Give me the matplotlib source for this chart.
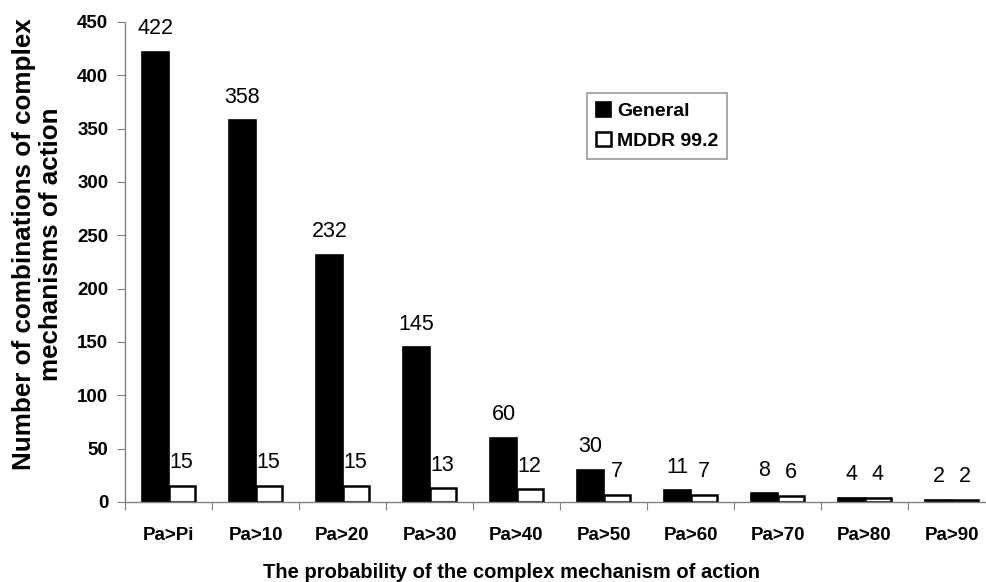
import matplotlib
matplotlib.use("Agg")
import matplotlib.pyplot as plt
import numpy as np

plt.rcParams['font.family'] = ['Liberation Sans', 'DejaVu Sans']

categories = ["Pa>Pi", "Pa>10", "Pa>20", "Pa>30", "Pa>40", "Pa>50", "Pa>60", "Pa>70", "Pa>80", "Pa>90"]
general = [422, 358, 232, 145, 60, 30, 11, 8, 4, 2]
mddr = [15, 15, 15, 13, 12, 7, 7, 6, 4, 2]
y_ticks = [0, 50, 100, 150, 200, 250, 300, 350, 400, 450]

fig = plt.figure(figsize=(9.86, 5.82), dpi=100)
ax = fig.add_axes([125/986, 80/582, 870/986, 480/582])

x = np.arange(len(categories))
w = 0.3
ax.bar(x, general, width=-w, align='edge', color='black', edgecolor='black', linewidth=1.2, label='General')
ax.bar(x, mddr, width=w, align='edge', color='white', edgecolor='black', linewidth=1.8, label='MDDR 99.2')

for xi, v in zip(x, general):
    ax.annotate(str(v), (xi - w/2, v), xytext=(0, 9), textcoords='offset points',
                ha='center', va='bottom', fontsize=15.5)
for xi, v in zip(x, mddr):
    ax.annotate(str(v), (xi + w/2, v), xytext=(0, 9), textcoords='offset points',
                ha='center', va='bottom', fontsize=15.5)

ax.set_xlim(-0.5, 9.5)
ax.set_ylim(0, 450)
ax.set_yticks(y_ticks)
ax.set_yticklabels([str(t) for t in y_ticks], fontsize=13.5, fontweight='bold')
ax.set_xticks(np.arange(-0.5, 10, 1))
ax.set_xticklabels([])
ax.set_xticks(x, minor=True)
ax.set_xticklabels(categories, minor=True, fontsize=13.5, fontweight='bold')
ax.tick_params(axis='x', which='minor', length=0, pad=18)
ax.tick_params(axis='x', which='major', length=6, color='#808080', direction='out')
ax.tick_params(axis='y', length=6, color='#808080', direction='out', pad=6)

for s in ['top', 'right']:
    ax.spines[s].set_visible(False)
for s in ['left', 'bottom']:
    ax.spines[s].set_color('#808080')
    ax.spines[s].set_linewidth(1.0)

ax.set_ylabel("Number of combinations of complex\nmechanisms of action", fontsize=18.7, fontweight='bold',
              labelpad=4, linespacing=1.15)
ax.yaxis.set_label_coords(-0.071, (502-244)/480)
ax.set_xlabel("The probability of the complex mechanism of action", fontsize=14.5, fontweight='bold', labelpad=14)
ax.xaxis.label.set_x((511-125)/870)

leg = ax.legend(loc='upper left', bbox_to_anchor=((587-125)/870, (502-93)/480),
                prop={'weight': 'bold', 'size': 14}, frameon=True, fancybox=False,
                handlelength=0.8, handleheight=0.8, handletextpad=0.3, borderpad=0.45,
                labelspacing=0.6, borderaxespad=0)
leg.get_frame().set_edgecolor('#808080')
leg.get_frame().set_linewidth(1.2)

fig.savefig("out.png", dpi=100)
